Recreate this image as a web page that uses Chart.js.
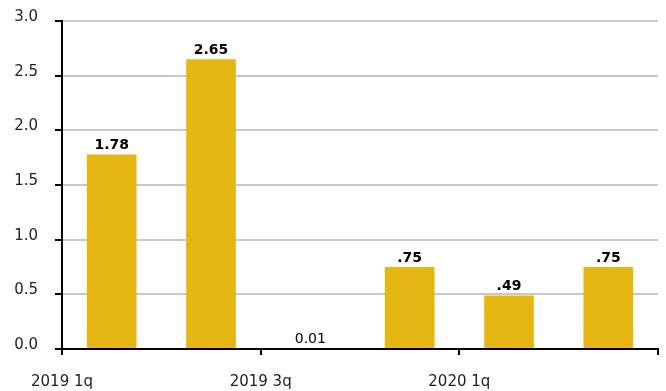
<!DOCTYPE html>
<html>
<head>
<meta charset="utf-8">
<script src="https://cdn.jsdelivr.net/npm/chart.js@4"></script>
<style>
html,body{margin:0;padding:0;background:#fff;}
#wrap{width:666px;height:391px;position:relative;}
</style>
</head>
<body>
<div id="wrap"><canvas id="c" width="666" height="391"></canvas></div>
<script>
const quarters = ["2019 1q","2019 2q","2019 3q","2019 4q","2020 1q","2020 2q"];
const values = [1.78, 2.65, 0.01, 0.75, 0.49, 0.75];
const valueLabels = ["1.78","2.65","0.01",".75",".49",".75"];
const labelBold = [true, true, false, true, true, true];
const xTickLabels = {0:"2019 1q", 2:"2019 3q", 4:"2020 1q", 6:""};
const yTicks = [0, 0.5, 1, 1.5, 2, 2.5, 3];

const FONT = "'DejaVu Sans', sans-serif";

const valueLabelPlugin = {
  id: 'valueLabels',
  afterDatasetsDraw(chart) {
    const ctx = chart.ctx;
    const meta = chart.getDatasetMeta(0);
    ctx.save();
    ctx.textAlign = 'center';
    ctx.textBaseline = 'bottom';
    ctx.fillStyle = '#000';
    meta.data.forEach((bar, i) => {
      ctx.font = (labelBold[i] ? 'bold ' : '') + '14px ' + FONT;
      ctx.fillText(valueLabels[i], bar.x, bar.y - 2);
    });
    ctx.restore();
  }
};

function zeroPad(s) { s.paddingTop = 0; s.paddingBottom = 0; s.paddingLeft = 0; s.paddingRight = 0; }

new Chart(document.getElementById('c'), {
  type: 'bar',
  data: {
    datasets: [{
      data: values.map((v, i) => ({x: i + 0.5, y: v})),
      backgroundColor: '#E6B713',
      borderWidth: 0,
      barPercentage: 0.5,
      categoryPercentage: 1.0
    }]
  },
  options: {
    responsive: false,
    animation: false,
    layout: {padding: {top: 21, right: 8, bottom: 0, left: 0}},
    plugins: {legend: {display: false}, tooltip: {enabled: false}},
    scales: {
      x: {
        type: 'linear',
        offset: false,
        min: 0, max: 6,
        afterBuildTicks: (s) => { s.ticks = [0, 2, 4, 6].map(v => ({value: v})); },
        afterFit: (s) => { s.height = 42; zeroPad(s); },
        ticks: {
          autoSkip: false,
          maxRotation: 0,
          padding: 18,
          color: '#222',
          font: {family: FONT, size: 15},
          callback: (v) => xTickLabels[v] !== undefined ? xTickLabels[v] : ''
        },
        grid: {offset: false, drawOnChartArea: false, drawTicks: true, tickLength: 6, color: '#000', lineWidth: 2},
        border: {display: true, color: '#000', width: 2}
      },
      y: {
        min: 0, max: 3,
        afterBuildTicks: (s) => { s.ticks = yTicks.map(v => ({value: v})); },
        afterFit: (s) => { s.width = 62; zeroPad(s); },
        ticks: {
          padding: 17,
          color: '#222',
          labelOffset: -4,
          font: {family: FONT, size: 15},
          callback: (v) => v.toFixed(1)
        },
        grid: {color: '#c8c8c8', lineWidth: 2, tickColor: '#000', tickLength: 7, drawTicks: true},
        border: {display: true, color: '#000', width: 2}
      }
    }
  },
  plugins: [valueLabelPlugin]
});
</script>
</body>
</html>
